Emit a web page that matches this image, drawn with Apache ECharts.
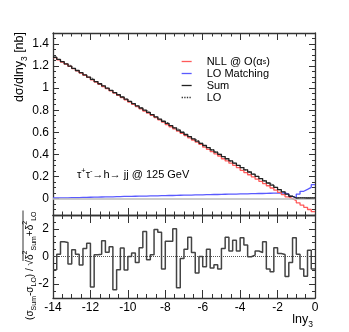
<!DOCTYPE html>
<html><head><meta charset="utf-8">
<script src="https://cdn.jsdelivr.net/npm/echarts@6/dist/echarts.min.js"></script>
<style>html,body{margin:0;padding:0;background:#fff}#c{width:349px;height:332px}</style>
</head><body><div id="c"></div>
<script>
// binning of ln y3
const binStart = -14, binWidth = 0.2;

// top panel: d sigma / d ln y3 [nb], 70 bins
const nllValues = [1.277,1.257,1.237,1.217,1.197,1.177,1.157,1.137,1.117,1.097,
 1.075,1.055,1.035,1.015,0.995,0.975,0.955,0.935,0.915,0.895,
 0.873,0.853,0.833,0.813,0.793,0.773,0.753,0.733,0.713,0.693,
 0.670,0.650,0.630,0.610,0.590,0.570,0.550,0.530,0.510,0.490,
 0.465,0.445,0.425,0.405,0.385,0.360,0.340,0.320,0.300,0.280,
 0.255,0.235,0.215,0.195,0.175,0.155,0.135,0.115,0.095,0.075,
 0.055,0.035,0.015,-0.002,-0.020,-0.040,-0.060,-0.080,-0.100,-0.120];
const matchValues = [0.004,0.005,0.005,0.006,0.007,0.008,0.008,0.009,0.010,0.011,
 0.012,0.012,0.013,0.014,0.015,0.015,0.016,0.017,0.018,0.018,
 0.019,0.020,0.021,0.021,0.022,0.023,0.024,0.024,0.025,0.026,
 0.027,0.027,0.028,0.029,0.030,0.030,0.031,0.032,0.033,0.033,
 0.034,0.035,0.036,0.036,0.037,0.038,0.039,0.039,0.040,0.041,
 0.042,0.042,0.043,0.044,0.045,0.045,0.046,0.047,0.048,0.048,
 0.049,0.050,0.040,0.018,0.005,0.040,0.065,0.082,0.100,0.125];
const sumValues = [1.280,1.260,1.240,1.220,1.200,1.180,1.160,1.140,1.120,1.100,
 1.080,1.060,1.040,1.020,1.000,0.980,0.960,0.940,0.920,0.900,
 0.880,0.860,0.840,0.820,0.800,0.780,0.760,0.740,0.720,0.700,
 0.680,0.660,0.640,0.620,0.600,0.580,0.560,0.540,0.520,0.500,
 0.480,0.460,0.440,0.420,0.400,0.380,0.360,0.340,0.320,0.300,
 0.280,0.260,0.240,0.220,0.200,0.180,0.160,0.140,0.120,0.100,
 0.080,0.060,0.040,0.020,0.004,0.006,0.005,0.004,0.006,0.005];
const loValues = [1.281,1.260,1.238,1.219,1.201,1.179,1.160,1.141,1.119,1.099,
 1.082,1.060,1.040,1.019,1.000,0.979,0.960,0.941,0.920,0.900,
 0.880,0.860,0.840,0.820,0.799,0.781,0.760,0.740,0.718,0.698,
 0.681,0.659,0.638,0.621,0.600,0.580,0.560,0.538,0.520,0.501,
 0.480,0.461,0.440,0.421,0.401,0.380,0.360,0.339,0.320,0.299,
 0.280,0.259,0.240,0.220,0.200,0.180,0.160,0.139,0.121,0.101,
 0.079,0.060,0.040,0.021,0.004,0.006,0.005,0.004,0.006,0.005];

// bottom panel: pulls (sigma_Sum - sigma_LO)/sqrt(delta^2_Sum + delta^2_LO)
const pullValues = [-0.95,0.17,1.07,1.02,-0.55,0.48,0.17,-0.62,0.57,0.95,
 -2.2,0.12,0.17,1.14,0.3,0.71,-2.4,-0.95,0.62,-0.98,
 0.0,0.25,-0.43,0.64,1.8,-0.24,0.12,1.95,1.75,-0.9,
 1.1,1.1,2.0,-2.26,-0.14,0.52,1.4,0.29,-1.2,0.0,
 -0.74,0.52,-0.83,-0.6,-0.9,0.57,1.4,0.4,1.17,0.4,
 1.36,0.83,-0.02,0.1,0.4,0.29,1.07,-0.9,-1.1,0.64,
 0.21,0.14,-1.45,-0.43,1.36,0.17,-0.9,-1.43,0.45,-0.9];

const topTicks = {min: -0.15, max: 1.5};
const pullRange = {min: -3, max: 3};
const xLabelFormat = v => String(Math.round(v));

function hist(values) {
  const pts = values.map((v, i) => [binStart + i * binWidth, v]);
  pts.push([binStart + values.length * binWidth, values[values.length - 1]]);
  return pts;
}

const FF = '"Liberation Sans", Arial, Helvetica, sans-serif';
const frame = '#333';
const chart = echarts.init(document.getElementById('c'), null, {renderer: 'canvas'});

function xAx(grid, pos, labels, tickLen, minorLen) {
  return {type: 'value', gridIndex: grid, position: pos, min: binStart, max: 0, interval: 2,
    axisLine: {show: true, onZero: false, lineStyle: {color: frame, width: 1.3}},
    axisTick: {show: true, inside: true, length: tickLen, lineStyle: {color: frame, width: 1}},
    minorTick: {show: true, splitNumber: 4, length: minorLen, lineStyle: {color: frame, width: 1}},
    axisLabel: {show: labels, margin: 4, fontSize: 12, color: '#000', fontFamily: FF, formatter: xLabelFormat},
    splitLine: {show: false}};
}
function yMajor(grid, pos, range, split, labels, tickLen, fmt) {
  return {type: 'value', gridIndex: grid, position: pos, min: range.min, max: range.max, splitNumber: split,
    axisLine: {show: true, onZero: false, lineStyle: {color: frame, width: 1.3}},
    axisTick: {show: true, inside: true, length: tickLen, lineStyle: {color: frame, width: 1}},
    axisLabel: {show: labels, showMinLabel: false, showMaxLabel: false, margin: 4, fontSize: 12, color: '#000', fontFamily: FF, formatter: fmt},
    splitLine: {show: false}};
}
function yMinor(grid, pos, range, interval, tickLen) {
  return {type: 'value', gridIndex: grid, position: pos, min: range.min, max: range.max, interval: interval,
    axisLine: {show: false, onZero: false},
    axisTick: {show: true, inside: true, length: tickLen, lineStyle: {color: frame, width: 1}},
    axisLabel: {show: false}, splitLine: {show: false}};
}
const topFmt = v => { const r = Math.round(v * 10) / 10; return Math.abs(r) < 1e-9 ? '0' : String(r); };
const pullFmt = v => String(Math.round(v));

// rotated y title of bottom panel, measured with canvas
const mctx = document.createElement('canvas').getContext('2d');
function tw(t, s) { mctx.font = s + 'px ' + FF; return mctx.measureText(t).width; }
const sqrtW = tw('δ', 10) * 2 + tw('2', 7) * 2 + tw('Sum', 7) + tw('+', 10) + tw('LO', 7) + 1;

const richSmall = {
  m: {fontSize: 10, fontFamily: FF, color: '#000', lineHeight: 16, verticalAlign: 'middle'},
  s: {fontSize: 7, fontFamily: FF, color: '#000', lineHeight: 9, verticalAlign: 'bottom'},
  p: {fontSize: 7, fontFamily: FF, color: '#000', lineHeight: 9, verticalAlign: 'top'}
};
const richTitle = {
  m: {fontSize: 12.5, fontFamily: FF, color: '#000', lineHeight: 18, verticalAlign: 'middle'},
  s: {fontSize: 8.5, fontFamily: FF, color: '#000', lineHeight: 10, verticalAlign: 'bottom'}
};
const richAnno = {
  m: {fontSize: 11, fontFamily: FF, color: '#000', lineHeight: 16, verticalAlign: 'middle'},
  p: {fontSize: 7.5, fontFamily: FF, color: '#000', lineHeight: 9, verticalAlign: 'top'}
};

const option = {
  animation: false,
  textStyle: {fontFamily: FF},
  grid: [
    {left: 53, top: 33, width: 262, height: 182, show: false},
    {left: 53, top: 215, width: 262, height: 83, show: false}
  ],
  xAxis: [
    xAx(0, 'bottom', false, 7, 3.5),
    xAx(0, 'top', false, 7, 3.5),
    xAx(1, 'bottom', true, 8, 4),
    xAx(1, 'top', false, 8, 4)
  ],
  yAxis: [
    yMajor(0, 'left', topTicks, 8, true, 6, topFmt),
    yMajor(0, 'right', topTicks, 8, false, 6, topFmt),
    yMinor(0, 'left', topTicks, 0.05, 3),
    yMinor(0, 'right', topTicks, 0.05, 3),
    yMajor(1, 'left', pullRange, 3, true, 6, pullFmt),
    yMajor(1, 'right', pullRange, 3, false, 6, pullFmt),
    yMinor(1, 'left', pullRange, 0.5, 3),
    yMinor(1, 'right', pullRange, 0.5, 3)
  ],
  legend: {
    orient: 'vertical', left: 181, top: 56, padding: 0, itemWidth: 10, itemHeight: 9, itemGap: 1,
    itemStyle: {opacity: 0}, lineStyle: {width: 1.3},
    data: ['NLL', 'LO Matching', 'Sum', 'LO'],
    formatter: n => n === 'NLL' ? '{m|NLL @ O(α}{s|s}{m|)}' : '{m|' + n + '}',
    textStyle: {padding: [0, 0, 0, 10], rich: {
      m: {fontSize: 11, fontFamily: FF, color: '#000', lineHeight: 9, verticalAlign: 'middle'},
      s: {fontSize: 7, fontFamily: FF, color: '#000', lineHeight: 5, verticalAlign: 'bottom'}
    }}
  },
  series: [
    {name: 'LO', type: 'line', step: 'end', symbol: 'none', xAxisIndex: 0, yAxisIndex: 0,
     data: hist(loValues), lineStyle: {color: '#333', width: 1, type: 'dotted'}, z: 2,
     markLine: {silent: true, symbol: ['none', 'none'], label: {show: false},
       lineStyle: {color: '#bbb', width: 1.5, type: 'solid'}, data: [{yAxis: 0}]}},
    {name: 'LO Matching', type: 'line', step: 'end', symbol: 'none', xAxisIndex: 0, yAxisIndex: 0,
     data: hist(matchValues), lineStyle: {color: '#5a5aff', width: 1.3}, z: 3},
    {name: 'NLL', type: 'line', step: 'end', symbol: 'none', xAxisIndex: 0, yAxisIndex: 0,
     data: hist(nllValues), lineStyle: {color: '#ff5a5a', width: 1.3}, z: 4},
    {name: 'Sum', type: 'line', step: 'end', symbol: 'none', xAxisIndex: 0, yAxisIndex: 0,
     data: hist(sumValues), lineStyle: {color: '#222', width: 1.3}, z: 5},
    {name: 'pull', type: 'line', step: 'end', symbol: 'none', xAxisIndex: 2, yAxisIndex: 4,
     data: hist(pullValues), lineStyle: {color: '#444', width: 1.5}, z: 5,
     markLine: {silent: true, symbol: ['none', 'none'], label: {show: false},
       lineStyle: {color: '#555', width: 1, type: 'dotted'}, data: [{yAxis: 0}]}}
  ],
  graphic: [
    {type: 'text', x: 20, y: 32, rotation: Math.PI / 2,
     style: {text: '{m|dσ/dlny}{s|3}{m| [nb]}', align: 'right', verticalAlign: 'middle', rich: richTitle}},
    {type: 'text', x: 313, y: 320,
     style: {text: '{m|lny}{s|3}', align: 'right', verticalAlign: 'middle', rich: richTitle}},
    {type: 'text', x: 77, y: 175,
     style: {text: '{m|τ}{p|+}{m|τ}{p|-}{m|→h→ jj @ 125 GeV}', align: 'left', verticalAlign: 'middle', rich: richAnno}},
    {type: 'group', x: 30, y: 260, rotation: Math.PI / 2, children: [
      {type: 'text', x: 0, y: 0, style: {text: '{m|(σ}{s|Sum}{m|-σ}{s|LO}{m|) / √}', align: 'right', verticalAlign: 'middle', rich: richSmall}},
      {type: 'text', x: 0, y: 0, style: {text: '{m|δ}{p|2}{s|Sum}{m|+δ}{p|2}{s|LO}', align: 'left', verticalAlign: 'middle', rich: richSmall}},
      {type: 'line', shape: {x1: -1, y1: -7, x2: sqrtW, y2: -7}, style: {stroke: '#000', lineWidth: 0.8}}
    ]}
  ]
};
chart.setOption(option);
</script></body></html>
